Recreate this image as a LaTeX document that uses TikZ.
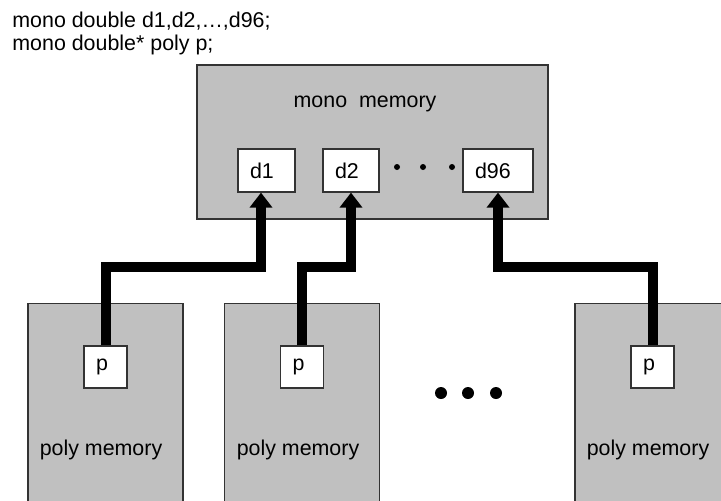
\documentclass[tikz,border=0pt]{standalone}
\usepackage{fontspec}
\setmainfont{Liberation Sans}
\usetikzlibrary{arrows.meta}

\definecolor{memfill}{HTML}{C0C0C0}
\definecolor{memline}{HTML}{333333}

\tikzset{
  memory/.style={draw=memline, fill=memfill, line width=0.6pt, inner sep=0pt},
  cell/.style={draw=memline, fill=white, line width=0.6pt, inner xsep=6pt, inner ysep=0pt,
    minimum height=21.5pt, align=left, text width=#1},
  txt/.style={inner sep=0pt},
  wire/.style={line width=5pt, line join=miter, -{Triangle[width=11pt,length=7.5pt]}},
}

\begin{document}
\begin{tikzpicture}[x=0.5pt, y=-0.5pt, every node/.style={font=\fontsize{10.7}{12}\selectfont}]

	\pgfmathsetmacro{\wirey}{267}
	\useasboundingbox (0,0) rectangle (721,500);

	\node[txt, anchor=base west] (decl1) at (12,27) {mono double d1,d2,…,d96;};
	\node[txt, anchor=base west] (decl2) at (12,50) {mono double* poly p;};

	% mono memory
	\node[memory, minimum width=175.5pt, minimum height=77pt] (mono) at (372.5,142) {};
	\node[txt, anchor=base] (monolabel) at (365,107) {mono~~memory};
	\node[cell=16.5pt] (d1) at (266.5,170.5) {d1};
	\node[cell=16pt] (d2) at (351,170.5) {d2};
	\node[cell=23pt] (d96) at (498,170.5) {d96};
	\foreach \x in {397, 423, 452}
		\fill (\x,167) circle (1.5pt);

	% poly memories
	\foreach \i/\x/\lx in {1/105.5/101, 2/302/298, 3/652.5/648}
	{
		\node[memory, minimum width=77.5pt, minimum height=100pt, anchor=north] (poly\i) at (\x,303) {};
		\node[cell=9.5pt, minimum height=21pt] (p\i) at (\x,367) {p};
		\node[txt, anchor=base] (polylabel\i) at (\lx,455) {poly memory};
	}
	\foreach \x in {441, 468, 496}
		\fill (\x,393) circle (3pt);

	% pointers
	\draw[wire] (p1.north) -- (p1.north |- 0,\wirey) -| ([xshift=-2.75pt]d1.south); % p -> d1
	\draw[wire] (p2.north) -- (p2.north |- 0,\wirey) -| (d2.south); % p -> d2
	\draw[wire] (p3.north) -- (p3.north |- 0,\wirey) -| (d96.south); % p -> d96
\end{tikzpicture}
\end{document}
